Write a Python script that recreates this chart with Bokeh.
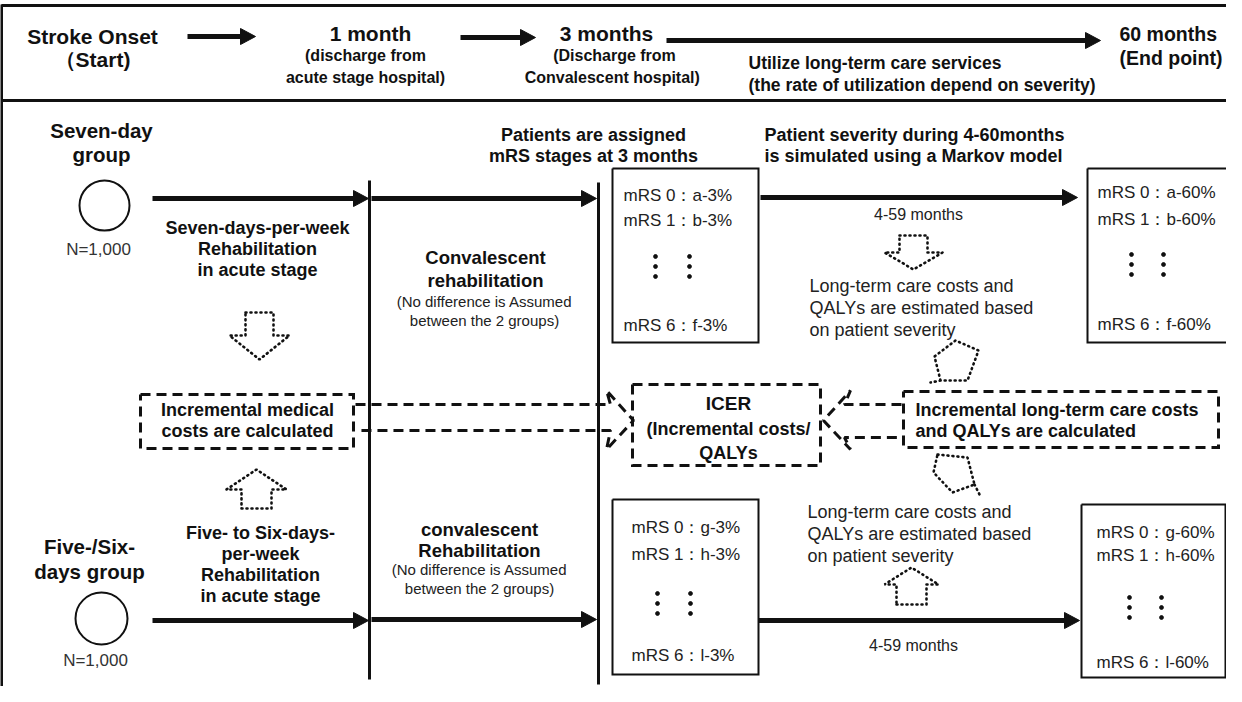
from bokeh.plotting import figure
from bokeh.models import Range1d
from bokeh.core.properties import value
from bokeh.embed import file_html
from bokeh.resources import INLINE

# ---------------- data (texts of the diagram) ----------------
timeline_start = ["Stroke Onset", "（Start)"]
timeline_1m_title = ["1 month"]
timeline_1m_sub = ["(discharge from", "acute stage hospital)"]
timeline_3m_title = ["3 months"]
timeline_3m_sub = ["(Discharge from", "Convalescent  hospital)"]
timeline_care = ["Utilize long-term care services",
                 "(the rate of utilization depend on severity)"]
timeline_end = ["60 months", "(End point)"]

group_seven = ["Seven-day", "group"]
group_five = ["Five-/Six-", "days group"]
group_size = "N=1,000"

acute_seven = ["Seven-days-per-week", "Rehabilitation", "in acute stage"]
acute_five = ["Five- to Six-days-", "per-week", "Rehabilitation", "in acute stage"]
conv_seven = ["Convalescent", "rehabilitation"]
conv_five = ["convalescent", "Rehabilitation"]
conv_note = ["(No difference is Assumed", "between the 2 groups)"]

assign_title = ["Patients are assigned", "mRS stages at 3 months"]
markov_title = ["Patient severity during 4-60months",
                "is simulated using a Markov model"]
period_label = "4-59 months"
estimate_text = ["Long-term care costs and", "QALYs are estimated based",
                 "on patient severity"]

mrs_stages = ["mRS 0", "mRS 1", "mRS 6"]
seven_3m = ["a-3%", "b-3%", "f-3%"]
seven_60m = ["a-60%", "b-60%", "f-60%"]
five_3m = ["g-3%", "h-3%", "l-3%"]
five_60m = ["g-60%", "h-60%", "l-60%"]

medical_box = ["Incremental medical", "costs are calculated"]
icer_box = ["ICER", "(Incremental costs/", "QALYs"]
ltc_box = ["Incremental long-term care costs", "and QALYs are calculated"]

# ---------------- figure ----------------
p = figure(width=1226, height=686, x_range=Range1d(8, 1234), y_range=Range1d(694, 8),
           output_backend="svg", toolbar_location=None, min_border=0)
p.xaxis.visible = False
p.yaxis.visible = False
p.grid.visible = False
p.outline_line_color = None
p.background_fill_color = "white"
p.border_fill_color = "white"

FONT = value("Liberation Sans")
INK = "#111111"
GREY = "#222222"


def label(x, y, lines, size, bold=True, align="center", dy=None, color=INK):
    if isinstance(lines, str):
        lines = [lines]
    if dy is None:
        dy = size * 1.25
    ys = [y + i * dy for i in range(len(lines))]
    p.text(x=[x] * len(lines), y=ys, text=lines, text_font=FONT,
           text_font_size=f"{size}px", text_font_style="bold" if bold else "normal",
           text_align=align, text_baseline="middle", text_color=color)


def arrow(x0, x1, y, lw=5, hl=15, hw=8):
    p.segment(x0=[x0], y0=[y], x1=[x1 - hl + 1], y1=[y], line_width=lw, line_color=INK)
    p.patch(x=[x1 - hl, x1, x1 - hl], y=[y - hw, y, y + hw], fill_color=INK,
            line_color=INK, line_width=1)


def vline(x, y0, y1, lw=3):
    p.segment(x0=[x], y0=[y0], x1=[x], y1=[y1], line_width=lw, line_color=INK)


def box(x0, y0, x1, y1, lw=2, dash="solid"):
    p.line(x=[x0, x1, x1, x0, x0], y=[y0, y0, y1, y1, y0], line_width=lw,
           line_color=INK, line_dash=dash, line_join="miter")


def dotted(xs, ys):
    p.line(x=xs, y=ys, line_dash="1 4", line_width=2.6, line_cap="round",
           line_color=INK)


def block_arrow(cx, y_tail, y_tip, bw, hw, hl):
    d = 1 if y_tip > y_tail else -1
    yb = y_tip - d * hl
    xs = [cx - bw, cx + bw, cx + bw, cx + hw, cx, cx - hw, cx - bw, cx - bw]
    ys = [y_tail, y_tail, yb, yb, y_tip, yb, yb, y_tail]
    dotted(xs, ys)


def dots(x, y):
    p.scatter(x=[x] * 3, y=[y - 10, y, y + 10], size=3.8, marker="circle",
              fill_color=INK, line_color=INK)


def mrs_box(x0, y0, x1, y1, tx, ys, values, dx1, dx2, ydots):
    box(x0, y0, x1, y1)
    for s, v, y in zip(mrs_stages, values, ys):
        label(tx, y, f"{s}：{v}", 17, bold=False, align="left", color=GREY)
    dots(dx1, ydots)
    dots(dx2, ydots)


# ---------------- frame ----------------
p.segment(x0=[9], y0=[13], x1=[1250], y1=[13], line_width=3, line_color=INK)
p.segment(x0=[9], y0=[108], x1=[1250], y1=[108], line_width=3, line_color=INK)
vline(9, 12, 702)

# ---------------- timeline header ----------------
label(100, 44, timeline_start, 21, dy=23)
arrow(195, 263, 44)
label(378, 41, timeline_1m_title, 21)
label(373, 63, timeline_1m_sub, 16, dy=22)
arrow(468, 543, 45)
label(614, 41, timeline_3m_title, 21)
label(622, 63, timeline_3m_sub, 16, dy=22)
arrow(674, 1108, 48)
label(756, 70, timeline_care, 17.5, align="left", dy=22)
label(1127, 41, timeline_end, 19.5, align="left", dy=24)

# ---------------- seven-day group ----------------
label(109, 138, group_seven, 20.5, dy=24)
p.ellipse(x=[112], y=[213], width=50, height=50, fill_color=None, line_color=INK,
          line_width=2)
label(106, 257, group_size, 17, bold=False, color="#333333")
arrow(160, 376, 206)
vline(377, 188, 687)
arrow(379, 604, 206)
vline(606, 190, 692)
label(265, 235, acute_seven, 18, dy=21)
label(493, 265, conv_seven, 18.5, dy=23)
label(492, 309, conv_note, 15, bold=False, dy=19, color=GREY)
block_arrow(267, 320, 367, 14, 30, 24)

label(601, 142, assign_title, 18, dy=21)
label(772, 142, markov_title, 18, align="left", dy=21)

mrs_box(620, 176, 766, 350, 631, [203, 228, 333], seven_3m, 663, 697, 274)
arrow(768, 1085, 205)
label(926, 222, period_label, 16, bold=False, color=GREY)
block_arrow(921, 243, 277, 14, 29, 17)
label(817, 293, estimate_text, 18, bold=False, align="left", dy=22, color=GREY)
mrs_box(1095, 176, 1238, 350, 1105, [200, 227, 332], seven_60m, 1139, 1171, 272)

# tilted dotted arrow above the long-term box
dotted([948, 942, 963, 986, 975, 948, 938], [388, 364, 348, 358, 388, 388, 390])

# ---------------- incremental boxes & ICER ----------------
box(148, 402, 361, 456, lw=3, dash="10 6")
label(255, 417, medical_box, 18, dy=21)
p.line(x=[363, 618, 614, 641, 614, 618, 363], y=[412, 412, 398, 428, 457, 438, 438],
       line_width=3, line_color=INK, line_dash="10 6")

box(640, 392, 828, 473, lw=3, dash="10 6")
label(736, 411, icer_box[:1], 19)
label(736, 436, icer_box[1:], 18, dy=24)

p.line(x=[909, 852, 858, 831, 858, 852, 909], y=[412, 412, 398, 428, 457, 445, 445],
       line_width=3, line_color=INK, line_dash="10 6")
box(911, 399, 1226, 455, lw=3, dash="10 6")
label(923, 417, ltc_box, 18, align="left", dy=21)

# tilted dotted arrow below the long-term box
dotted([945, 975, 982, 960, 941, 945], [462, 465, 492, 500, 480, 462])
dotted([982, 987], [492, 502])

# ---------------- five/six-day group ----------------
block_arrow(264, 516, 477, 15, 30, 20)
label(268, 540, acute_five, 18, dy=21)
label(97, 554, group_five, 20.5, dy=25)
p.ellipse(x=[109], y=[626], width=52, height=52, fill_color=None, line_color=INK,
          line_width=2)
label(103, 668, group_size, 17, bold=False, color="#333333")
arrow(160, 376, 628)
label(487, 537, conv_five, 18.5, dy=21)
label(487, 577, conv_note, 15, bold=False, dy=19, color=GREY)
arrow(379, 604, 627)

mrs_box(620, 507, 766, 682, 639, [535, 562, 663], five_3m, 665, 698, 611)
label(815, 519, estimate_text, 18, bold=False, align="left", dy=22, color=GREY)
block_arrow(919, 612, 575, 15, 27, 17)
arrow(766, 1087, 628)
label(921, 653, period_label, 16, bold=False, color=GREY)
mrs_box(1089, 512, 1233, 685, 1104, [540, 563, 670], five_60m, 1137, 1169, 615)

open("out.html", "w").write(file_html(p, INLINE))
